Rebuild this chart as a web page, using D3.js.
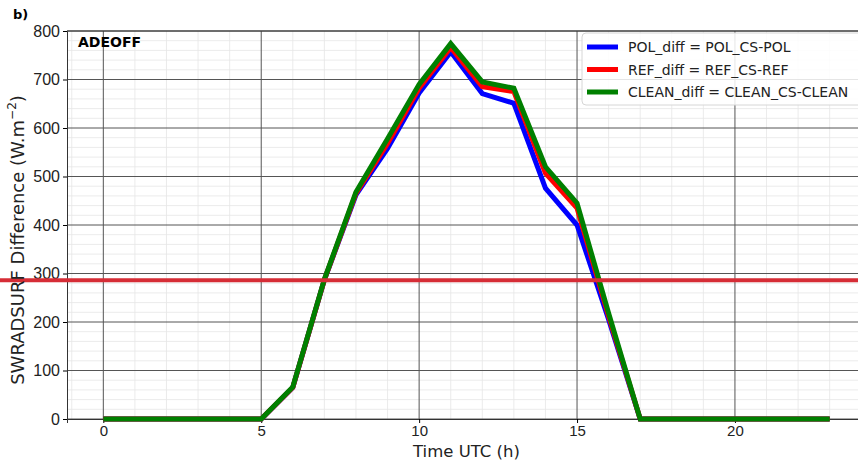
<!DOCTYPE html>
<html>
<head>
<meta charset="utf-8">
<script src="https://cdn.jsdelivr.net/npm/d3@7"></script>
<style>
  body { margin: 0; background: #fff; }
  svg { font-family: "DejaVu Sans", sans-serif; display: block; }
</style>
</head>
<body>
<div id="chart"></div>
<script>
// hours 0..23
var hours = d3.range(0, 24);
var polDiff   = [0,0,0,0,0,0,65,287,462,558,672,757,671,651,476,400,205,0,0,0,0,0,0,0];
var refDiff   = [0,0,0,0,0,0,65,287,465,568,682,766,685,675,507,435,212,0,0,0,0,0,0,0];
var cleanDiff = [0,0,0,0,0,0,66,288,468,578,690,774,695,682,520,445,218,0,0,0,0,0,0,0];
var refLine = 286;   // horizontal red reference
var xTicks = [0, 5, 10, 15, 20];
var yTicks = [0, 100, 200, 300, 400, 500, 600, 700, 800];
var seriesNames = ["POL_diff = POL_CS-POL", "REF_diff = REF_CS-REF", "CLEAN_diff = CLEAN_CS-CLEAN"];
var seriesColors = ["#0000ff", "#ff0000", "#008000"];

var totalWidth = 858, totalHeight = 464;
var margin = {top: 31, right: -8, bottom: 45, left: 67},
    width = totalWidth - margin.left - margin.right,
    height = totalHeight - margin.top - margin.bottom;

var svg = d3.select("#chart").append("svg")
    .attr("width", totalWidth)
    .attr("height", totalHeight);

var g = svg.append("g")
    .attr("transform", "translate(" + margin.left + "," + margin.top + ")");

// x: matplotlib style 5% padding
var xScale = d3.scaleLinear().domain([-1.15, 24.15]).range([0, width]);
var yScale = d3.scaleLinear().domain([0, 800]).range([height, 0]);

// minor grid
g.append("g").selectAll("line")
  .data(d3.range(-1, 25).filter(function(d){ return xTicks.indexOf(d) < 0; }))
  .enter().append("line")
    .attr("x1", function(d){ return xScale(d); })
    .attr("x2", function(d){ return xScale(d); })
    .attr("y1", 0).attr("y2", height)
    .attr("stroke", "#e6e6e6").attr("stroke-width", 0.8);
g.append("g").selectAll("line")
  .data(d3.range(20, 800, 20).filter(function(d){ return d % 100 !== 0; }))
  .enter().append("line")
    .attr("x1", 0).attr("x2", width)
    .attr("y1", function(d){ return yScale(d); })
    .attr("y2", function(d){ return yScale(d); })
    .attr("stroke", "#e6e6e6").attr("stroke-width", 0.8);

// major grid
g.append("g").selectAll("line")
  .data(xTicks).enter().append("line")
    .attr("x1", function(d){ return xScale(d); })
    .attr("x2", function(d){ return xScale(d); })
    .attr("y1", 0).attr("y2", height)
    .attr("stroke", "#555").attr("stroke-width", 1);
g.append("g").selectAll("line")
  .data(yTicks).enter().append("line")
    .attr("x1", 0).attr("x2", width)
    .attr("y1", function(d){ return yScale(d); })
    .attr("y2", function(d){ return yScale(d); })
    .attr("stroke", "#555").attr("stroke-width", 1);

// axes
var xAxis = d3.axisBottom(xScale).tickValues(xTicks).tickSize(4).tickPadding(2);
var yAxis = d3.axisLeft(yScale).tickValues(yTicks).tickSize(4).tickPadding(3);

g.append("g")
    .attr("transform", "translate(0," + height + ")")
    .call(xAxis)
    .call(function(s){
      s.select(".domain").attr("stroke", "#333");
      s.selectAll("text").attr("font-size", 15).attr("fill", "#222");
    });
g.append("g")
    .call(yAxis)
    .call(function(s){
      s.select(".domain").attr("stroke", "#333");
      s.selectAll("text").attr("font-size", 16).attr("fill", "#222");
    });
// top spine
g.append("line").attr("x1", 0).attr("x2", width).attr("y1", 0).attr("y2", 0)
    .attr("stroke", "#333");

// series
var line = d3.line()
    .x(function(d, i){ return xScale(hours[i]); })
    .y(function(d){ return yScale(d); });

[polDiff, refDiff, cleanDiff].forEach(function(vals, i) {
  g.append("path")
    .datum(vals)
    .attr("fill", "none")
    .attr("stroke", seriesColors[i])
    .attr("stroke-width", 5)
    .attr("stroke-linejoin", "miter")
    .attr("d", line);
});

// red reference line across the whole figure
svg.append("line")
    .attr("x1", 0).attr("x2", totalWidth)
    .attr("y1", margin.top + yScale(refLine))
    .attr("y2", margin.top + yScale(refLine))
    .attr("stroke", "#d62d36").attr("stroke-width", 4);

// labels
svg.append("text").attr("x", 13).attr("y", 19)
    .attr("font-size", 13).attr("font-weight", "bold").text("b)");
g.append("text").attr("x", 11).attr("y", 16)
    .attr("font-size", 14).attr("font-weight", "bold").text("ADEOFF");

svg.append("text")
    .attr("x", margin.left + width / 2)
    .attr("y", 457)
    .attr("text-anchor", "middle")
    .attr("font-size", 16.5).attr("fill", "#222")
    .text("Time UTC (h)");

var yl = svg.append("text")
    .attr("transform", "translate(24,240) rotate(-90)")
    .attr("text-anchor", "middle")
    .attr("font-size", 18).attr("fill", "#222");
yl.append("tspan").text("SWRADSURF Difference (W.m");
yl.append("tspan").attr("font-size", 12).attr("dy", -8).text("\u22122");
yl.append("tspan").attr("dy", 8).text(")");

// legend
var legend = svg.append("g").attr("transform", "translate(582,33)");
legend.append("rect")
    .attr("width", 290).attr("height", 72)
    .attr("rx", 4)
    .attr("fill", "#fff").attr("fill-opacity", 0.85)
    .attr("stroke", "#d6d6d6");
seriesNames.forEach(function(name, i) {
  var yy = 14 + i * 22.5;
  legend.append("line")
    .attr("x1", 5).attr("x2", 36)
    .attr("y1", yy).attr("y2", yy)
    .attr("stroke", seriesColors[i]).attr("stroke-width", 5);
  legend.append("text")
    .attr("x", 46).attr("y", yy + 5)
    .attr("font-size", 14).attr("fill", "#222")
    .text(name);
});
</script>
</body>
</html>
